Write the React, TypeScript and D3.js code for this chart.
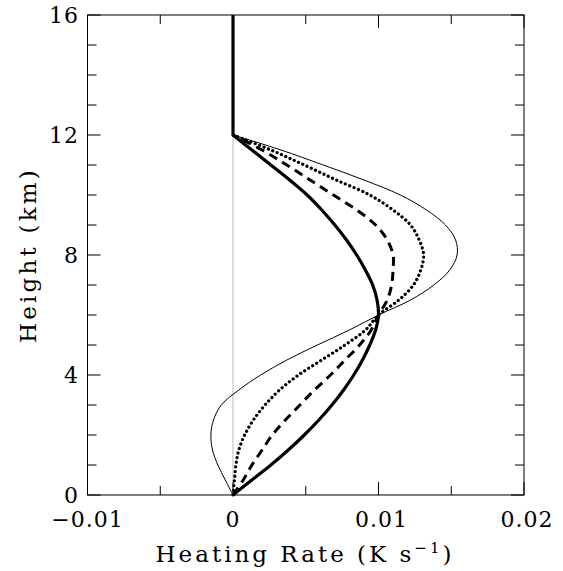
import React from "react";
import * as d3 from "d3";

const heights = [0, 0.5, 1, 1.5, 2, 2.5, 3, 3.5, 4, 4.5, 5, 5.5, 6, 6.5, 7, 7.5, 8, 8.5, 9, 9.5, 10, 10.5, 11, 11.5, 12];

// heating rates (K/s), one list per profile
const rateThick = [0, 0.0013, 0.0026, 0.0038, 0.0049, 0.0059, 0.0068, 0.0076, 0.0083, 0.0089, 0.0094, 0.0098, 0.01,
  0.0099, 0.0096, 0.0091, 0.0085, 0.0078, 0.007, 0.0061, 0.0051, 0.0039, 0.0026, 0.0013, 0];
const rateDashed = [0, 0.0007, 0.0013, 0.002, 0.0027, 0.0036, 0.0046, 0.0056, 0.0067, 0.0077, 0.0087, 0.0095, 0.01,
  0.0106, 0.0109, 0.011, 0.011, 0.0106, 0.0098, 0.0085, 0.0069, 0.0053, 0.0037, 0.002, 0];
const rateDotted = [0, 0.0001, 0.0002, 0.0004, 0.0008, 0.0014, 0.0022, 0.0032, 0.0045, 0.0061, 0.0077, 0.0091, 0.01,
  0.0114, 0.0124, 0.0129, 0.0131, 0.0128, 0.0122, 0.011, 0.0094, 0.0071, 0.0049, 0.0026, 0];
const rateThin = [0, -0.00053, -0.00104, -0.00141, -0.00152, -0.00134, -0.0008, 0.0004, 0.0019, 0.0037, 0.0058, 0.008, 0.01,
  0.0122, 0.0138, 0.0149, 0.0154, 0.0153, 0.0146, 0.0133, 0.0115, 0.009, 0.0062, 0.0033, 0];

// the thick profile continues straight up above 12 km
const stemHeights = [12, 16];
const stemRates = [0, 0];

const xTicks = [-0.01, 0, 0.01, 0.02];
const xTickLabels = ["\u22120.01", "0", "0.01", "0.02"];
const yTicks = [0, 4, 8, 12, 16];
const yTickLabels = ["0", "4", "8", "12", "16"];

const W = 563;
const H = 571;
const FONT = "'DejaVu Serif', serif";

export default function App() {
  const x = d3.scaleLinear().domain([-0.01, 0.02]).range([87.5, 524]);
  const y = d3.scaleLinear().domain([0, 16]).range([495, 15]);

  const line = d3
    .line<[number, number]>()
    .x((d) => x(d[0]))
    .y((d) => y(d[1]))
    .curve(d3.curveCatmullRom.alpha(0.5));

  const pts = (r: number[]) => r.map((v, i) => [v, heights[i]] as [number, number]);
  const stem = d3
    .line<[number, number]>()
    .x((d) => x(d[0]))
    .y((d) => y(d[1]))(stemRates.map((v, i) => [v, stemHeights[i]] as [number, number]));

  const [x0, x1] = x.range();
  const [y0, y1] = y.range();
  const xMinor = d3.range(-0.01, 0.0201, 0.005).filter((v) => !xTicks.some((t) => Math.abs(t - v) < 1e-9));
  const yMinor = d3.range(0, 16.01, 1).filter((v) => !yTicks.includes(v));
  const major = 13;
  const minor = 9;

  return (
    <svg width={W} height={H} style={{ position: "absolute", left: 0, top: 0, background: "#fff" }}>
      {/* zero line */}
      <line x1={x(0)} x2={x(0)} y1={y(0)} y2={y(16)} stroke="#bbb" strokeWidth={1} />

      {/* profiles */}
      <path d={line(pts(rateThin)) ?? ""} fill="none" stroke="#000" strokeWidth={1} />
      <path d={line(pts(rateDotted)) ?? ""} fill="none" stroke="#000" strokeWidth={3.2} strokeDasharray="0.1 4.6" strokeLinecap="round" />
      <path d={line(pts(rateDashed)) ?? ""} fill="none" stroke="#000" strokeWidth={3} strokeDasharray="9 6" />
      <path d={line(pts(rateThick)) ?? ""} fill="none" stroke="#000" strokeWidth={3.2} />
      <path d={stem ?? ""} fill="none" stroke="#000" strokeWidth={3.2} />

      {/* frame */}
      <rect x={x0} y={y1} width={x1 - x0} height={y0 - y1} fill="none" stroke="#000" strokeWidth={1} />

      {/* ticks */}
      <g stroke="#000" strokeWidth={1}>
        {xTicks.map((t) => (
          <g key={"xt" + t}>
            <line x1={x(t)} x2={x(t)} y1={y0} y2={y0 - major} />
            <line x1={x(t)} x2={x(t)} y1={y1} y2={y1 + major} />
          </g>
        ))}
        {xMinor.map((t) => (
          <g key={"xm" + t}>
            <line x1={x(t)} x2={x(t)} y1={y0} y2={y0 - minor} />
            <line x1={x(t)} x2={x(t)} y1={y1} y2={y1 + minor} />
          </g>
        ))}
        {yTicks.map((t) => (
          <g key={"yt" + t}>
            <line x1={x0} x2={x0 + major} y1={y(t)} y2={y(t)} />
            <line x1={x1} x2={x1 - major} y1={y(t)} y2={y(t)} />
          </g>
        ))}
        {yMinor.map((t) => (
          <g key={"ym" + t}>
            <line x1={x0} x2={x0 + minor} y1={y(t)} y2={y(t)} />
            <line x1={x1} x2={x1 - minor} y1={y(t)} y2={y(t)} />
          </g>
        ))}
      </g>

      {/* tick labels */}
      <g fontFamily={FONT} fontSize={22} fill="#000">
        {xTicks.map((t, i) => (
          <text key={"xl" + t} x={x(t) + (t > 0 ? 3 : 0)} y={527} textAnchor="middle" letterSpacing={1}>
            {xTickLabels[i]}
          </text>
        ))}
        {yTicks.map((t, i) => (
          <text key={"yl" + t} x={79} y={y(t) + 8} textAnchor="end" letterSpacing={1}>
            {yTickLabels[i]}
          </text>
        ))}
      </g>

      {/* axis titles */}
      <text x={305} y={562} textAnchor="middle" fontFamily={FONT} fontSize={23} letterSpacing={3}>
        Heating Rate (K s
        <tspan fontSize={15} dy={-9}>
          {"\u22121"}
        </tspan>
        <tspan dy={9}>)</tspan>
      </text>
      <text
        transform={`translate(36,${(y0 + y1) / 2}) rotate(-90)`}
        textAnchor="middle"
        fontFamily={FONT}
        fontSize={23}
        letterSpacing={3.2}
      >
        Height (km)
      </text>
    </svg>
  );
}
